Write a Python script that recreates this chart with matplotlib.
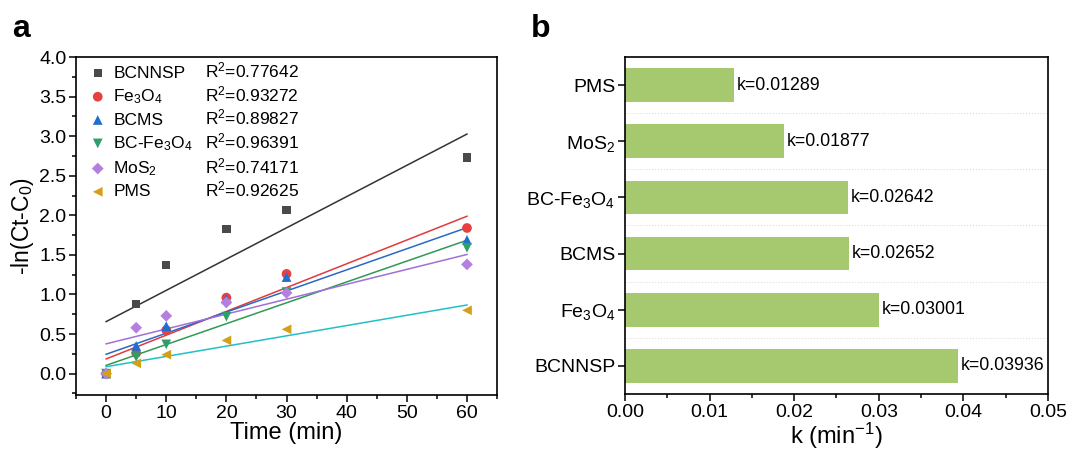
import matplotlib
matplotlib.use('Agg')
import matplotlib.pyplot as plt
from matplotlib.ticker import MultipleLocator, FormatStrFormatter
import numpy as np

plt.rcParams['font.family'] = ['Liberation Sans', 'DejaVu Sans']
plt.rcParams['mathtext.fontset'] = 'custom'
plt.rcParams['mathtext.rm'] = 'Liberation Sans'
plt.rcParams['mathtext.it'] = 'Liberation Sans:italic'
plt.rcParams['mathtext.bf'] = 'Liberation Sans:bold'

# ---- panel a data ----
time = [0, 5, 10, 20, 30, 60]
bcnnsp = [0, 0.88, 1.37, 1.83, 2.07, 2.73]
fe3o4 = [0, 0.26, 0.55, 0.96, 1.26, 1.84]
bcms = [0, 0.35, 0.60, 0.94, 1.22, 1.69]
bcfe3o4 = [0, 0.21, 0.37, 0.72, 1.03, 1.59]
mos2 = [0, 0.58, 0.73, 0.90, 1.02, 1.38]
pms = [0, 0.13, 0.24, 0.42, 0.56, 0.80]

names = ['BCNNSP', r'Fe$_\mathregular{3}$O$_\mathregular{4}$', 'BCMS',
         r'BC-Fe$_\mathregular{3}$O$_\mathregular{4}$', r'MoS$_\mathregular{2}$', 'PMS']
r2 = ['0.77642', '0.93272', '0.89827', '0.96391', '0.74171', '0.92625']
series = [bcnnsp, fe3o4, bcms, bcfe3o4, mos2, pms]
markers = ['s', 'o', '^', 'v', 'D', '<']
msizes = [6, 7, 7, 7, 6, 7]
pt_colors = ['#4a4a4a', '#e8403f', '#1f6fd0', '#2e9e6a', '#b57fe0', '#d4a017']
line_colors = ['#333333', '#e03a3a', '#2a68c8', '#2f9a55', '#a070d8', '#20c0c8']

# ---- panel b data ----
cats = ['BCNNSP', r'Fe$_\mathregular{3}$O$_\mathregular{4}$', 'BCMS',
        r'BC-Fe$_\mathregular{3}$O$_\mathregular{4}$', r'MoS$_\mathregular{2}$', 'PMS']
kvals = [0.03936, 0.03001, 0.02652, 0.02642, 0.01877, 0.01289]

fig = plt.figure(figsize=(10.68, 4.5), dpi=100)
ax1 = fig.add_axes([0.0712, 0.1222, 0.3942, 0.7511])
ax2 = fig.add_axes([0.5852, 0.1244, 0.396, 0.749])

# panel a
handles = []
for ys, m, ms, pc, lc in zip(series, markers, msizes, pt_colors, line_colors):
    slope, icpt = np.polyfit(time, ys, 1)
    xf = np.array([time[0], time[-1]])
    ax1.plot(xf, slope * xf + icpt, color=lc, lw=1.1, zorder=2)
    h = ax1.scatter(time, ys, marker=m, s=ms**2, color=pc, edgecolors='none', zorder=3)
    handles.append(h)

leg = ax1.legend(handles, names, loc='upper left', frameon=False, fontsize=12.5,
                 handletextpad=0.15, labelspacing=0.37, borderaxespad=0.1,
                 bbox_to_anchor=(0.0, 1.0), handlelength=1.5)

ax1.set_xlim(-5, 65)
ax1.set_ylim(-0.27, 4.0)
ax1.xaxis.set_major_locator(MultipleLocator(10))
ax1.xaxis.set_minor_locator(MultipleLocator(5))
ax1.yaxis.set_major_locator(MultipleLocator(0.5))
ax1.yaxis.set_minor_locator(MultipleLocator(0.25))
ax1.yaxis.set_major_formatter(FormatStrFormatter('%.1f'))
ax1.tick_params(which='both', direction='out', labelsize=14, width=1.1, pad=2)
ax1.tick_params(which='major', length=5)
ax1.tick_params(which='minor', length=3)
ax1.set_xlabel('Time (min)', fontsize=17, labelpad=0)
ax1.set_ylabel(r'-ln(Ct-C$_\mathregular{0}$)', fontsize=16.5, labelpad=2)
for s in ax1.spines.values():
    s.set_linewidth(1.2)

# panel b
ypos = np.arange(len(cats))
ax2.barh(ypos, kvals, height=0.6, color='#a6c86f', zorder=2)
for y, v in zip(ypos, kvals):
    ax2.text(v + 0.0003, y, 'k=%.5f' % v, va='center', ha='left', fontsize=12.8)
ax2.set_yticks(ypos)
ax2.set_yticklabels(cats)
ax2.set_ylim(-0.5, 5.5)
ax2.set_xlim(0, 0.05)
ax2.xaxis.set_major_locator(MultipleLocator(0.01))
ax2.xaxis.set_minor_locator(MultipleLocator(0.005))
ax2.xaxis.set_major_formatter(FormatStrFormatter('%.2f'))
ax2.set_yticks(ypos[:-1] + 0.5, minor=True)
ax2.grid(which='minor', axis='y', color='#dddddd', ls=':', lw=0.8, zorder=0)
ax2.tick_params(axis='y', which='minor', length=0)
ax2.tick_params(which='both', direction='out', labelsize=14, width=1.1, pad=2)
ax2.tick_params(which='major', length=5)
ax2.tick_params(axis='x', which='minor', length=3)
ax2.set_xlabel(r'k (min$^\mathregular{-1}$)', fontsize=17, labelpad=0)
for s in ax2.spines.values():
    s.set_linewidth(1.2)

# R^2 column on the same baselines as the legend rows
fig.canvas.draw()
inv = ax1.transAxes.inverted()
for t, r in zip(leg.get_texts(), r2):
    base = t.get_transform().transform(t.get_position())
    ybase = inv.transform(base)[1]
    ax1.text(0.306, ybase, r'R$^\mathregular{2}$=' + r, transform=ax1.transAxes,
             fontsize=12.5, va='baseline', ha='left')

fig.text(0.011, 0.935, 'a', fontsize=23, fontweight='bold', va='center')
fig.text(0.497, 0.935, 'b', fontsize=23, fontweight='bold', va='center')

fig.savefig('out.png', dpi=100)
